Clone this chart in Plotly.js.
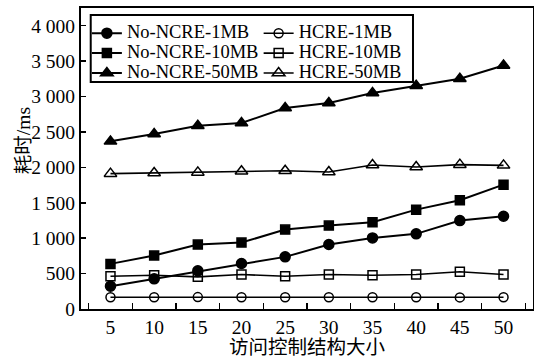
<!DOCTYPE html>
<html>
<head>
<meta charset="utf-8">
<script src="https://cdn.plot.ly/plotly-3.0.1.min.js"></script>
<style>html,body{margin:0;padding:0;background:#fff;}#chart{width:534px;height:358px;}</style>
</head>
<body>
<div id="chart"></div>
<script>
// Data
const categories = ["5", "10", "15", "20", "25", "30", "35", "40", "45", "50"];
const noNcre1MB  = [322, 426, 539, 642, 736, 910, 1004, 1061, 1248, 1309];
const noNcre10MB = [637, 755, 910, 938, 1121, 1178, 1224, 1403, 1535, 1756];
const noNcre50MB = [2367, 2471, 2588, 2626, 2838, 2908, 3049, 3152, 3251, 3439];
const hcre1MB    = [166, 166, 168, 166, 166, 166, 166, 166, 164, 166];
const hcre10MB   = [463, 477, 454, 487, 463, 487, 477, 487, 525, 487];
const hcre50MB   = [1911, 1921, 1929, 1944, 1953, 1935, 2034, 2006, 2038, 2028];
const yTickVals  = [0, 500, 1000, 1500, 2000, 2500, 3000, 3500, 4000];
const yTickText  = ["0", "500", "1 000", "1 500", "2 000", "2 500", "3 000", "3 500", "4 000"];
const seriesNames = ["No-NCRE-1MB", "No-NCRE-10MB", "No-NCRE-50MB", "HCRE-1MB", "HCRE-10MB", "HCRE-50MB"];

const serif = "Liberation Serif";
const serifCJK = "Liberation Serif, Noto Sans CJK SC";
const legendSpan = s => '<span style="font-size:18.5px">' + s + '</span>';

function tr(y, name, symbol, size, lw, legend) {
  return {
    x: categories, y: y, name: legendSpan(name), type: 'scatter', mode: 'lines+markers',
    line: {color: '#000', width: lw},
    marker: {symbol: symbol, size: size, color: '#000', line: {color: '#000', width: 1.5}},
    legend: legend, cliponaxis: false
  };
}
const data = [
  tr(noNcre1MB,  seriesNames[0], 'circle', 10, 2, 'legend'),
  tr(noNcre10MB, seriesNames[1], 'square', 9, 2, 'legend'),
  tr(noNcre50MB, seriesNames[2], 'triangle-up', 11, 2, 'legend'),
  tr(hcre1MB,    seriesNames[3], 'circle-open', 9, 1.6, 'legend2'),
  tr(hcre10MB,   seriesNames[4], 'square-open', 9, 1.6, 'legend2'),
  tr(hcre50MB,   seriesNames[5], 'triangle-up-open', 11, 1.6, 'legend2')
];
const legendCommon = {
  font: {family: serif, size: 13, color: '#000'},
  bgcolor: 'rgba(0,0,0,0)', borderwidth: 0,
  xanchor: 'left', yanchor: 'top', orientation: 'v', tracegroupgap: 0
};
const layout = {
  width: 534, height: 358,
  margin: {l: 81, r: 1, t: 8, b: 49},
  paper_bgcolor: '#fff', plot_bgcolor: '#fff',
  font: {family: serif, color: '#000', size: 19},
  showlegend: true,
  legend: Object.assign({}, legendCommon, {x: 0.013, y: 0.966}),
  legend2: Object.assign({}, legendCommon, {x: 0.393, y: 0.966}),
  xaxis: {
    type: 'category',
    showline: true, linecolor: '#000', linewidth: 2, mirror: true,
    ticks: 'inside', tickson: 'boundaries', ticklen: 6, tickwidth: 1.5, tickcolor: '#000',
    showgrid: false, zeroline: false,
    tickfont: {family: serif, size: 19.5, color: '#000'},
    title: {text: '访问控制结构大小', font: {family: serifCJK, size: 19.5, color: '#000'}, standoff: 4}
  },
  yaxis: {
    range: [0, 4250],
    tickvals: yTickVals, ticktext: yTickText,
    showline: true, linecolor: '#000', linewidth: 2, mirror: true,
    ticks: 'inside', ticklen: 5, tickwidth: 1.5, tickcolor: '#000',
    showgrid: false, zeroline: false,
    tickfont: {family: serif, size: 19.5, color: '#000'}
  },
  shapes: [{
    type: 'rect', xref: 'paper', yref: 'paper',
    x0: 0.0215, x1: 0.7345, y0: 0.754, y1: 0.9767,
    line: {color: '#000', width: 2}, fillcolor: 'rgba(0,0,0,0)', layer: 'above'
  }],
  annotations: [{
    text: '耗时/ms', xref: 'paper', yref: 'paper', x: -0.128, y: 0.558,
    xanchor: 'center', yanchor: 'middle', textangle: -90, showarrow: false,
    font: {family: serifCJK, size: 19.5, color: '#000'}
  }]
};
Plotly.newPlot('chart', data, layout, {staticPlot: true, displayModeBar: false});
</script>
</body>
</html>
